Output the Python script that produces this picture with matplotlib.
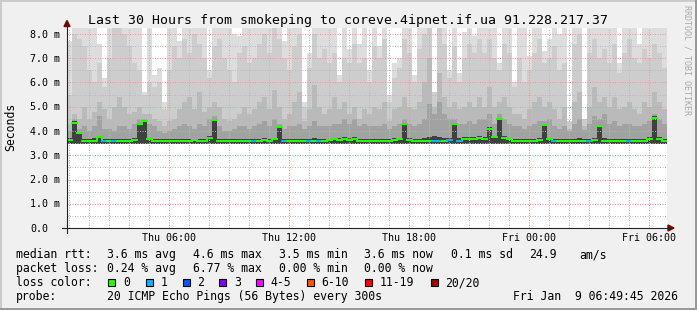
import matplotlib
matplotlib.use("Agg")
import matplotlib.pyplot as plt
import numpy as np
from matplotlib.patches import Rectangle, Polygon
from matplotlib.lines import Line2D
from matplotlib.collections import LineCollection

# ---- data (ms), one column per 15 minutes, 30 hours ----
t_start = 0.9          # hours since Thu 00:00
col_hours = 0.25
smoke_floor = 3.48     # lowest ping

smoke_top = [7.7, 8.3, 8.3, 8.3, 8.3, 8.3, 7.6, 6.2, 8.3, 8.3, 8.3, 8.3, 8.3, 8.3, 8.3, 5.6, 8.3, 6.3, 6.6, 5.2,
             8.3, 8.3, 7.7, 8.3, 8.3, 8.3, 8.3, 8.3, 6.5, 8.3,
             8.3, 8.3, 8.3, 8.0, 7.9, 8.3, 8.3, 8.3, 8.3, 8.3, 8.3, 8.3, 8.3, 7.7, 8.3, 8.3, 8.3, 5.2, 7.2, 8.3,
             8.3, 8.3, 8.3, 8.3, 6.3, 8.3, 7.4, 8.3, 7.6, 8.3,
             6.5, 8.3, 7.5, 8.3, 5.5, 6.8, 7.0, 8.3, 8.3, 6.3, 8.3, 8.3, 8.3, 5.6, 8.3, 8.3, 6.5, 8.3, 6.4, 8.1,
             8.3, 7.9, 8.3, 8.3, 8.3, 8.3, 6.8, 8.3, 8.3, 6.0,
             8.3, 8.3, 7.1, 8.3, 8.3, 7.3, 7.8, 8.3, 8.0, 8.3, 4.4, 8.3, 8.3, 4.5, 8.3, 8.3, 8.3, 8.3, 8.3, 8.3,
             6.8, 8.3, 8.3, 8.3, 7.6, 8.3, 8.3, 8.3, 8.3, 8.3]
smoke_l2 = [5.5, 8.0, 7.8, 7.5, 6.5, 6.0, 6.8, 5.8, 7.0, 8.3, 8.3, 8.0, 7.5, 6.8, 6.5, 5.5, 6.0, 5.8, 6.0, 4.9,
            6.5, 7.5, 7.0, 7.8, 7.2, 8.0, 7.6, 7.0, 6.2, 7.5,
            7.8, 7.0, 6.5, 6.0, 7.2, 7.5, 6.8, 7.0, 7.6, 8.0, 7.2, 8.3, 7.8, 7.0, 6.5, 7.5, 8.0, 5.0, 6.6, 8.0,
            7.0, 7.4, 6.8, 7.2, 6.0, 7.0, 6.8, 7.6, 6.8, 7.0,
            6.0, 7.5, 7.0, 7.8, 5.2, 6.2, 6.6, 7.8, 7.2, 6.0, 7.4, 8.0, 8.3, 5.6, 8.3, 7.6, 6.2, 7.5, 6.0, 7.0,
            7.6, 7.2, 7.8, 7.2, 7.8, 7.0, 6.5, 7.6, 7.2, 5.8,
            7.0, 6.0, 6.5, 7.2, 7.8, 6.8, 7.0, 7.5, 6.5, 6.8, 4.4, 7.6, 8.0, 4.5, 7.2, 7.8, 7.0, 7.4, 6.8, 7.6,
            6.4, 7.2, 7.8, 7.0, 6.8, 7.4, 7.0, 7.6, 7.2, 6.6]
smoke_l3 = [4.3, 4.7, 4.5, 5.0, 4.5, 4.8, 5.2, 4.9, 4.5, 5.0, 5.4, 5.0, 4.7, 4.8, 5.0, 4.7, 4.7, 4.5, 4.4, 4.2,
            4.4, 4.5, 4.9, 5.2, 5.4, 4.9, 5.6, 4.8, 5.0, 5.2,
            5.0, 4.5, 4.4, 4.5, 4.7, 5.0, 4.7, 4.9, 5.2, 5.4, 4.9, 5.7, 5.0, 4.5, 4.7, 5.2, 5.6, 4.4, 4.9, 5.9,
            5.0, 4.7, 4.9, 5.4, 4.9, 5.2, 4.7, 5.0, 4.5, 4.9,
            4.7, 5.0, 4.9, 5.2, 4.4, 4.9, 5.0, 5.4, 5.0, 4.9, 5.2, 6.0, 7.0, 5.0, 6.4, 5.4, 5.0, 5.2, 4.9, 5.0,
            5.2, 5.0, 5.4, 5.0, 5.8, 5.0, 5.2, 5.4, 5.0, 4.7,
            4.7, 4.5, 4.9, 5.2, 5.4, 5.0, 5.2, 4.9, 4.5, 5.0, 4.1, 5.2, 5.6, 4.2, 5.0, 5.8, 5.2, 5.4, 5.0, 5.4,
            4.9, 5.0, 5.2, 4.9, 4.7, 5.2, 5.0, 5.6, 5.2, 4.9]
smoke_l4 = [4.0, 4.5, 4.1, 4.2, 4.0, 4.2, 4.6, 4.1, 4.1, 4.0, 4.2, 4.2, 4.1, 4.3, 4.5, 4.5, 4.3, 4.2, 4.0, 3.9,
            4.0, 4.1, 4.2, 4.3, 4.2, 4.1, 4.3, 4.2, 4.5, 4.6,
            4.2, 4.0, 4.0, 4.1, 4.2, 4.2, 4.1, 4.2, 4.3, 4.4, 4.2, 4.5, 4.3, 4.1, 4.2, 4.2, 4.3, 4.1, 4.2, 4.4,
            4.2, 4.2, 4.2, 4.3, 4.3, 4.5, 4.3, 4.5, 4.2, 4.3,
            4.2, 4.2, 4.2, 4.3, 4.1, 4.2, 4.3, 4.5, 4.3, 4.2, 4.3, 4.5, 5.1, 4.7, 5.2, 4.7, 4.5, 4.5, 4.3, 4.3,
            4.4, 4.3, 4.5, 4.5, 4.7, 4.3, 4.7, 4.5, 4.3, 4.2,
            4.2, 4.1, 4.2, 4.3, 4.4, 4.4, 4.5, 4.2, 4.1, 4.2, 4.0, 4.3, 4.5, 4.05, 4.3, 4.6, 4.5, 4.7, 4.3, 4.4,
            4.2, 4.3, 4.3, 4.2, 4.2, 4.3, 4.4, 4.7, 4.5, 4.3]
smoke_l5 = [3.7, 4.4, 3.95, 3.68, 3.68, 3.7, 3.8, 3.68, 3.68, 3.66, 3.68, 3.68, 3.68, 3.7, 4.35, 4.45, 3.72, 3.68,
            3.66, 3.66, 3.66, 3.66, 3.68, 3.68, 3.68, 3.66, 3.68, 3.68, 3.78, 4.5,
            3.68, 3.66, 3.66, 3.66, 3.68, 3.68, 3.66, 3.68, 3.68, 3.7, 3.68, 3.72, 4.2, 3.68, 3.68, 3.68, 3.68,
            3.68, 3.68, 3.7, 3.68, 3.68, 3.68, 3.72, 3.7, 3.74, 3.7, 3.74, 3.68, 3.68,
            3.68, 3.66, 3.68, 3.68, 3.68, 3.7, 3.72, 4.35, 3.7, 3.68, 3.68, 3.7, 3.75, 3.8, 3.75, 3.72, 3.72,
            4.35, 3.7, 3.74, 3.74, 3.76, 3.78, 3.76, 4.15, 3.8, 4.55, 3.78, 3.72, 3.68,
            3.68, 3.66, 3.68, 3.68, 3.7, 4.3, 3.72, 3.68, 3.66, 3.68, 3.66, 3.68, 3.7, 3.66, 3.68, 3.7, 4.25,
            3.7, 3.68, 3.68, 3.68, 3.68, 3.68, 3.68, 3.68, 3.68, 3.75, 4.6, 3.75, 3.68]
median_rtt = [3.62, 4.35, 3.9, 3.6, 3.6, 3.58, 3.75, 3.6, 3.6, 3.6, 3.58, 3.6, 3.6, 3.62, 4.3, 4.4, 3.65, 3.58,
              3.6, 3.6, 3.58, 3.6, 3.6, 3.6, 3.6, 3.62, 3.6, 3.58, 3.7, 4.45,
              3.6, 3.58, 3.6, 3.6, 3.6, 3.58, 3.6, 3.6, 3.6, 3.62, 3.6, 3.65, 4.15, 3.6, 3.58, 3.6, 3.6, 3.58,
              3.6, 3.6, 3.6, 3.6, 3.62, 3.65, 3.62, 3.65, 3.62, 3.65, 3.6, 3.6,
              3.6, 3.58, 3.6, 3.6, 3.6, 3.62, 3.65, 4.3, 3.62, 3.6, 3.6, 3.6, 3.6, 3.6, 3.6, 3.6, 3.62, 4.3,
              3.6, 3.65, 3.65, 3.68, 3.7, 3.68, 4.1, 3.75, 4.5, 3.7, 3.65, 3.6,
              3.6, 3.58, 3.6, 3.6, 3.62, 4.25, 3.65, 3.6, 3.58, 3.6, 3.6, 3.6, 3.6, 3.6, 3.6, 3.62, 4.2, 3.6,
              3.6, 3.6, 3.6, 3.6, 3.6, 3.6, 3.6, 3.6, 3.65, 4.55, 3.65, 3.6]
lossy_cols = [7, 9, 37, 43, 48, 50, 73, 74, 76, 78, 97, 104, 112]   # 1 of 20 lost

x_ticks = [6, 12, 18, 24, 30]
x_labels = ["Thu 06:00", "Thu 12:00", "Thu 18:00", "Fri 00:00", "Fri 06:00"]
y_ticks = [0, 1, 2, 3, 4, 5, 6, 7, 8]

loss_labels = ["0", "1", "2", "3", "4-5", "6-10", "11-19", "20/20"]
loss_colors = ["#26ff00", "#00b8ff", "#0059ff", "#7e00ff", "#ff00ff", "#ff5500", "#ff0000", "#a10000"]

# ---- figure in pixel units ----
W, H = 697, 310
fx = lambda x: x / W
fy = lambda y: 1 - y / H
MONO = "DejaVu Sans Mono"

fig = plt.figure(figsize=(W / 100, H / 100), dpi=100, facecolor="#f0f0f0")
ax = fig.add_axes([fx(67), fy(228), 600 / W, 200 / H])
ax.set_facecolor("white")
ax.set_xlim(t_start, t_start + 30)
ax.set_ylim(0, 200 / 24.25)
for s in ax.spines.values():
    s.set_visible(False)
ax.set_xticks([])
ax.set_yticks([])

n = len(median_rtt)
edges = t_start + col_hours * np.arange(n + 1)

layers = [(smoke_top, "#dddddd"), (smoke_l2, "#cdcdcd"), (smoke_l3, "#bababa"),
          (smoke_l4, "#a2a2a2"), (smoke_l5, "#404040")]
for vals, col in layers:
    v = np.append(vals, vals[-1])
    ax.fill_between(edges, smoke_floor, v, step="post", color=col, lw=0, zorder=1)

# grid (drawn over the smoke, like rrdtool)
for h in range(1, 31):
    major = h % 6 == 0
    ax.axvline(h, color="#e39a9a" if major else "#b8b8b8", lw=0.72,
               ls=(0, (1, 1.5)), zorder=2)
for v in np.arange(0.5, 8.5, 0.5):
    major = float(v).is_integer()
    ax.axhline(v, color="#e39a9a" if major else "#b8b8b8", lw=0.72,
               ls=(0, (1, 1.5)), zorder=2)

# median line coloured by loss
segs, cols = [], []
for i in range(n):
    c = loss_colors[1] if i in lossy_cols else loss_colors[0]
    segs.append([(edges[i], median_rtt[i]), (edges[i + 1], median_rtt[i])])
    cols.append(c)
    if i + 1 < n and abs(median_rtt[i + 1] - median_rtt[i]) < 0.2:
        segs.append([(edges[i + 1], median_rtt[i]), (edges[i + 1], median_rtt[i + 1])])
        cols.append(c)
ax.add_collection(LineCollection(segs, colors=cols, linewidths=1.4, capstyle="projecting", zorder=3))

# axes lines and arrows
fig.add_artist(Line2D([fx(62), fx(670)], [fy(228), fy(228)], color="#222222", lw=0.8))
fig.add_artist(Line2D([fx(67), fx(67)], [fy(233), fy(24)], color="#222222", lw=0.8))
fig.add_artist(Polygon([(fx(64), fy(26.5)), (fx(70), fy(26.5)), (fx(67), fy(20.5))],
                       closed=True, color="#7f0000", transform=fig.transFigure))
fig.add_artist(Polygon([(fx(668), fy(225)), (fx(668), fy(231)), (fx(674), fy(228))],
                       closed=True, color="#7f0000", transform=fig.transFigure))

# frame shading
fig.add_artist(Rectangle((0, fy(2)), 1, 2 / H, color="#cbcbcb", lw=0, transform=fig.transFigure))
fig.add_artist(Rectangle((0, 0), 2 / W, 1, color="#cbcbcb", lw=0, transform=fig.transFigure))
fig.add_artist(Rectangle((0, 0), 1, 2 / H, color="#999999", lw=0, transform=fig.transFigure))
fig.add_artist(Rectangle((fx(695), 0), 2 / W, 1, color="#999999", lw=0, transform=fig.transFigure))

# tick labels
y_px = lambda v: 228 - 24.25 * v
for v in y_ticks:
    lab = "0.0" if v == 0 else f"{v:.1f} m"
    fig.text(fx(30.2), fy(y_px(v) + 3.7), lab, ha="left", va="baseline", family=MONO, size=7.2)
for h, lab in zip(x_ticks, x_labels):
    fig.text(fx(67 + (h - t_start) * 20), fy(241), lab, ha="center", va="baseline", family=MONO, size=7.2)

fig.text(fx(347.5), fy(24), "Last 30 Hours from smokeping to coreve.4ipnet.if.ua 91.228.217.37",
         ha="center", va="baseline", family=MONO, size=9.5)
fig.text(fx(10.7), fy(127), "Seconds", rotation=90, ha="center", va="center", family=MONO, size=8.3)
fig.text(fx(687), fy(60), "RRDTOOL / TOBI OETIKER", rotation=270, ha="center", va="center",
         family=MONO, size=6.0, color="#a8a8a8")

# legend
LS = 8.3
def leg(x, y, s):
    fig.text(fx(x - 0.5), fy(y), s, ha="left", va="baseline", family=MONO, size=LS)

leg(16, 258, "median rtt:")
leg(107.3, 258, "3.6 ms avg")
leg(193.3, 258, "4.6 ms max")
leg(279.3, 258, "3.5 ms min")
leg(365, 258, "3.6 ms now")
leg(451.7, 258, "0.1 ms sd")
leg(530, 258, "24.9")
leg(579.3, 258, "am/s")

leg(16, 272, "packet loss:")
leg(107.3, 272, "0.24 % avg")
leg(193.3, 272, "6.77 % max")
leg(279.3, 272, "0.00 % min")
leg(365, 272, "0.00 % now")

leg(16, 286, "loss color:")
box_x = [108.3, 145.7, 182.7, 219.3, 256.3, 306.7, 365, 430.7]
lab_x = [123.3, 160.7, 197.3, 234.3, 271, 321.7, 380, 445.7]
for bx, lx, lab, col in zip(box_x, lab_x, loss_labels, loss_colors):
    fig.add_artist(Rectangle((fx(bx), fy(285.8)), 7 / W, 7 / H, facecolor=col, edgecolor="black",
                             lw=0.8, transform=fig.transFigure))
    leg(lx, 286, lab)

leg(16, 300, "probe:")
leg(107.3, 300, "20 ICMP Echo Pings (56 Bytes) every 300s")
leg(513.3, 300, "Fri Jan  9 06:49:45 2026")

fig.savefig("out.png", dpi=100, facecolor=fig.get_facecolor())
